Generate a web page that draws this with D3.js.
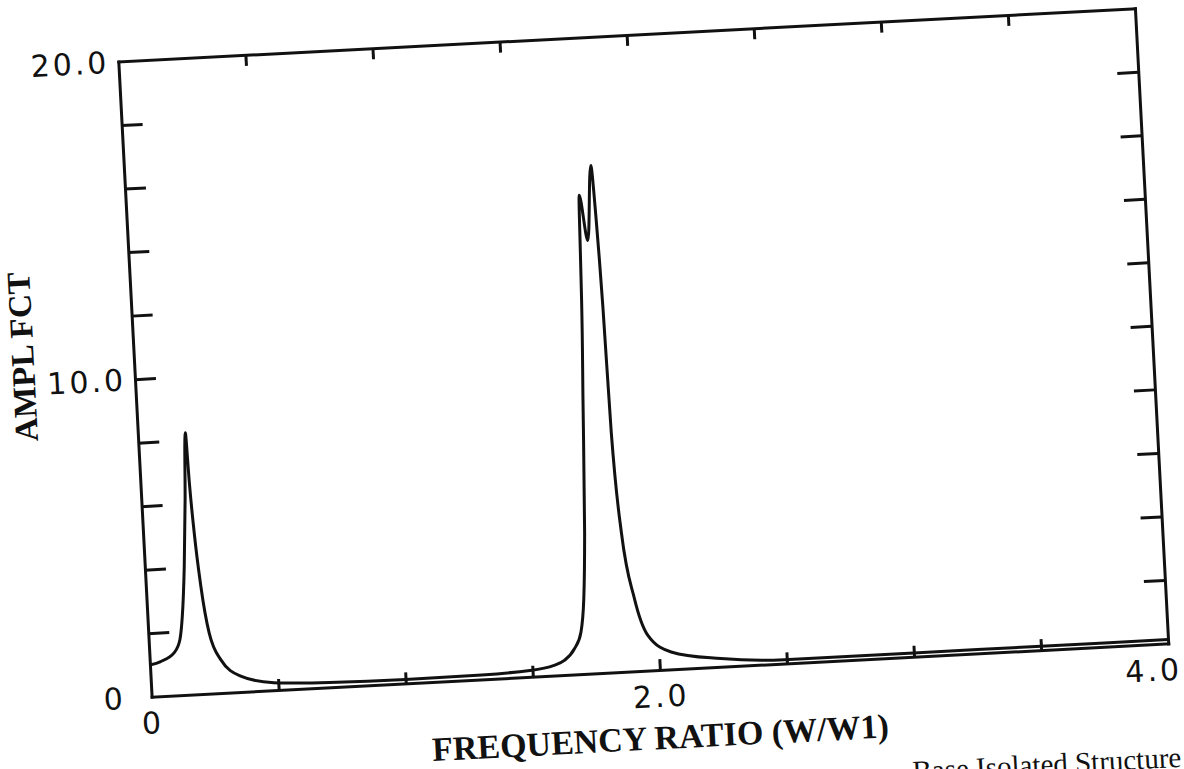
<!DOCTYPE html>
<html>
<head>
<meta charset="utf-8">
<script src="https://cdn.jsdelivr.net/npm/d3@7/dist/d3.min.js"></script>
<style>
  html, body { margin: 0; padding: 0; background: #fff; }
  svg { display: block; }
</style>
</head>
<body>
<div id="chart"></div>
<script>
// amplification function vs frequency ratio
var freq = [0.00, 0.043, 0.097, 0.123, 0.137, 0.155, 0.172, 0.187, 0.192, 0.201, 0.216, 0.239, 0.279, 0.354, 0.483,
            0.70, 1.00, 1.30, 1.49, 1.586, 1.627, 1.669, 1.698, 1.716, 1.733, 1.754, 1.769, 1.774, 1.781, 1.805,
            1.833, 1.842, 1.847, 1.851, 1.858, 1.877, 1.915, 1.960, 2.048, 2.242, 2.49, 3.00, 3.50, 4.00];
var ampl = [1.00, 1.09, 1.34, 1.75, 2.47, 4.04, 6.13, 8.23, 6.70, 5.07, 3.39, 1.91, 1.05, 0.50, 0.24,
            0.15, 0.12, 0.14, 0.20, 0.32, 0.46, 0.81, 1.32, 2.36, 4.46, 8.65, 11.79, 13.30, 15.04, 13.61,
            15.96, 14.40, 13.00, 11.50, 7.56, 4.40, 2.28, 1.11, 0.55, 0.26, 0.12, 0.12, 0.12, 0.12];

var xTicks = [0.5, 1.0, 1.5, 2.0, 2.5, 3.0, 3.5];
var yTicks = [2, 4, 6, 8, 10, 12, 14, 16, 18];
var xLabelVals = [0, 2.0, 4.0];
var xLabelText = ["0", "2.0", "4.0"];
var yLabelVals = [0, 10, 20];
var yLabelText = ["0", "10.0", "20.0"];
var xTitle = "FREQUENCY RATIO (W/W1)";
var yTitle = "AMPL FCT";
var footNote = "Base Isolated Structure";

var width = 1184, height = 769;
var svg = d3.select("#chart").append("svg")
    .attr("width", width)
    .attr("height", height);
svg.append("rect").attr("width", width).attr("height", height).attr("fill", "#fff");

// the scanned page is tilted about 3 degrees
var g = svg.append("g")
    .attr("transform", "translate(643.25,352.5) rotate(-3)");

var W = 509, H = 318;
var x = d3.scaleLinear().domain([0, 4]).range([-W, W]);
var y = d3.scaleLinear().domain([0, 20]).range([H, -H]);

function styleAxis(sel) {
    sel.selectAll("path.domain").attr("stroke", "#111").attr("stroke-width", 3).attr("stroke-linecap", "square");
    sel.selectAll(".tick line").attr("stroke", "#111").attr("stroke-width", 3);
    sel.selectAll(".tick text").remove();
}

g.append("g").attr("transform", `translate(0,${H})`)
    .call(d3.axisTop(x).tickValues(xTicks).tickSize(11).tickSizeOuter(0).tickFormat(""))
    .call(styleAxis);
g.append("g").attr("transform", `translate(0,${-H})`)
    .call(d3.axisBottom(x).tickValues(xTicks).tickSize(11).tickSizeOuter(0).tickFormat(""))
    .call(styleAxis);
g.append("g").attr("transform", `translate(${-W},0)`)
    .call(d3.axisRight(y).tickValues(yTicks).tickSize(21).tickSizeOuter(0).tickFormat(""))
    .call(styleAxis);
g.append("g").attr("transform", `translate(${W},0)`)
    .call(d3.axisLeft(y).tickValues(yTicks).tickSize(21).tickSizeOuter(0).tickFormat(""))
    .call(styleAxis);

// curve
var pts = freq.map((f, i) => [f, ampl[i]]);
var line = d3.line()
    .x(d => x(d[0]))
    .y(d => y(d[1]))
    .curve(d3.curveMonotoneX);
g.append("path")
    .datum(pts)
    .attr("fill", "none")
    .attr("stroke", "#111")
    .attr("stroke-width", 3)
    .attr("stroke-linejoin", "round")
    .attr("d", line);

// tick labels
var labFont = "'DejaVu Sans', sans-serif";
g.selectAll("text.ylab")
    .data(yLabelVals)
    .enter().append("text")
    .attr("class", "ylab")
    .attr("x", (d, i) => -W - (d === 0 ? 26 : 9))
    .attr("y", d => y(d))
    .attr("dy", "0.36em")
    .attr("text-anchor", "end")
    .attr("font-family", labFont)
    .attr("font-size", 30)
    .attr("letter-spacing", 3)
    .attr("fill", "#111")
    .text((d, i) => yLabelText[i]);

g.selectAll("text.xlab")
    .data(xLabelVals)
    .enter().append("text")
    .attr("class", "xlab")
    .attr("x", d => x(d) - (d === 4 ? 16 : 0))
    .attr("y", H + 26)
    .attr("dy", "0.36em")
    .attr("text-anchor", "middle")
    .attr("font-family", labFont)
    .attr("font-size", 30)
    .attr("letter-spacing", 3)
    .attr("fill", "#111")
    .text((d, i) => xLabelText[i]);

// axis titles
g.append("text")
    .attr("x", -3)
    .attr("y", H + 79)
    .attr("text-anchor", "middle")
    .attr("font-family", "'Liberation Serif', serif")
    .attr("font-weight", "bold")
    .attr("font-size", 34)
    .attr("fill", "#111")
    .text(xTitle);

g.append("text")
    .attr("transform", `translate(${-W - 100},-28) rotate(-90)`)
    .attr("text-anchor", "middle")
    .attr("font-family", "'Liberation Serif', serif")
    .attr("font-weight", "bold")
    .attr("font-size", 33)
    .attr("fill", "#111")
    .text(yTitle);

// caption cut off at the bottom of the scan
g.append("text")
    .attr("x", 247)
    .attr("y", H + 124)
    .attr("font-family", "'Liberation Serif', serif")
    .attr("font-size", 29)
    .attr("fill", "#111")
    .text(footNote);
</script>
</body>
</html>
